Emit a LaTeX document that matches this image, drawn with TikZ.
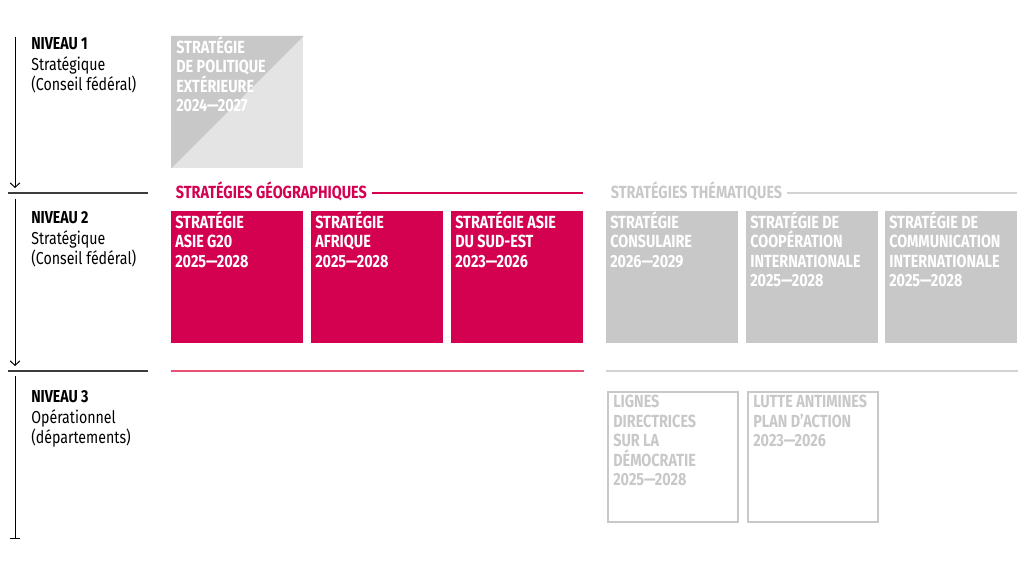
\documentclass[tikz,border=0pt]{standalone}
\usepackage{fontspec}
\setmainfont[FakeStretch=0.82]{Fira Sans}
\usetikzlibrary{arrows.meta}
\definecolor{geored}{RGB}{212,0,80}
\definecolor{geopink}{RGB}{232,80,120}
\definecolor{themgray}{RGB}{200,200,200}
\definecolor{themlight}{RGB}{228,228,228}
\definecolor{rulegray}{RGB}{210,210,210}
\definecolor{levelgray}{RGB}{60,60,60}

\begin{document}
\begin{tikzpicture}[x=0.025cm, y=-0.025cm,
    tile/.style={minimum width=3.3cm, minimum height=3.3cm, inner sep=0, anchor=north west},
    outtile/.style={tile, draw=themgray, line width=1.4pt, minimum width=3.25cm, minimum height=3.25cm},
    tiletext/.style={anchor=north west, align=left, inner sep=0,
                     font=\bfseries\fontsize{12.5}{13.9}\selectfont,
                     execute at begin node={\vphantom{É}}},
    leveltext/.style={anchor=north west, align=left, inner sep=0,
                      font=\fontsize{12.3}{14.8}\selectfont},
    header/.style={anchor=base west, inner sep=0, outer xsep=3.5pt,
                   font=\bfseries\fontsize{12.5}{13.9}\selectfont},
    levelarrow/.style={-{Straight Barb[length=3.2pt, width=7pt]}, line width=0.7pt},
    levelsep/.style={levelgray, line width=0.9pt},
  ]
    \useasboundingbox (0,0) rectangle (1024,576);

    % Left: levels
    \coordinate (a1s) at (15,37);   \coordinate (a1e) at (15,188);
    \coordinate (a2s) at (15,199);  \coordinate (a2e) at (15,366);
    \coordinate (a3s) at (15,376);  \coordinate (a3e) at (15,539);
    \coordinate (sep1) at (8,193);  \coordinate (sep1e) at (148,193);
    \coordinate (sep2) at (8,371);  \coordinate (sep2e) at (148,371);

    \draw[levelarrow] (a1s) -- (a1e);
    \draw[levelarrow] (a2s) -- (a2e);
    \draw[-{Bar[width=6.5pt]}, line width=0.7pt] (a3s) -- (a3e);
    \draw[levelsep] (sep1) -- (sep1e);
    \draw[levelsep] (sep2) -- (sep2e);

    \node[leveltext] (lvl1) at (31,37)  {\textbf{NIVEAU 1}\\Stratégique\\(Conseil fédéral)};
    \node[leveltext] (lvl2) at (31,211) {\textbf{NIVEAU 2}\\Stratégique\\(Conseil fédéral)};
    \node[leveltext] (lvl3) at (31,390) {\textbf{NIVEAU 3}\\Opérationnel\\(départements)};

    % Level 1: foreign policy strategy
    \node[tile, fill=themlight] (polext) at (171,36) {};
    \fill[themgray] (polext.north west) -- (polext.north east) -- (polext.south west) -- cycle;
    \node[tiletext, text=white] (polext-t) at ([shift={(5,0)}]polext.north west)
      {STRATÉGIE\\DE POLITIQUE\\EXTÉRIEURE\\2024—2027};

    % Level 2: geographic strategies
    \node[header, text=geored] (geohead) at (171,199) {STRATÉGIES GÉOGRAPHIQUES};
    \coordinate (geoend) at (583,193);
    \draw[geored, line width=1.3pt] (geohead.east |- geoend) -- (geoend);

    \node[tile, fill=geored] (asieg20) at (171,211) {};
    \node[tile, fill=geored] (afrique) at (311,211) {};
    \node[tile, fill=geored] (asiese)  at (451,211) {};
    \node[tiletext, text=white] at ([shift={(4,0)}]asieg20.north west) {STRATÉGIE\\ASIE G20\\2025—2028};
    \node[tiletext, text=white] at ([shift={(4,0)}]afrique.north west) {STRATÉGIE\\AFRIQUE\\2025—2028};
    \node[tiletext, text=white] at ([shift={(4,0)}]asiese.north west)  {STRATÉGIE ASIE\\DU SUD-EST\\2023—2026};

    % Level 2: thematic strategies
    \node[header, text=themgray] (themhead) at (606,199) {STRATÉGIES THÉMATIQUES};
    \coordinate (themend) at (1017,193);
    \draw[rulegray, line width=1.3pt] (themhead.east |- themend) -- (themend);

    \node[tile, fill=themgray] (consul) at (606,211) {};
    \node[tile, fill=themgray] (coop)   at (746,211) {};
    \node[tile, fill=themgray] (comm)   at (885,211) {};
    \node[tiletext, text=white] at ([shift={(4,0)}]consul.north west) {STRATÉGIE\\CONSULAIRE\\2026—2029};
    \node[tiletext, text=white] at ([shift={(4,0)}]coop.north west)   {STRATÉGIE DE\\COOPÉRATION\\INTERNATIONALE\\2025—2028};
    \node[tiletext, text=white] at ([shift={(4,0)}]comm.north west)   {STRATÉGIE DE\\COMMUNICATION\\INTERNATIONALE\\2025—2028};

    % Level 3: operational
    \draw[geopink, line width=1.1pt] (asieg20.west |- sep2) -- (asiese.east |- sep2);
    \draw[rulegray, line width=1.1pt] (consul.west |- sep2) -- (comm.east |- sep2);

    \node[outtile] (demo)  at (607,391) {};
    \node[outtile] (mines) at (747,391) {};
    \node[tiletext, text=themgray] at ([shift={(6,4)}]demo.north west)  {LIGNES\\DIRECTRICES\\SUR LA\\DÉMOCRATIE\\2025—2028};
    \node[tiletext, text=themgray] at ([shift={(6,4)}]mines.north west) {LUTTE ANTIMINES\\PLAN D’ACTION\\2023—2026};
  \end{tikzpicture}
\end{document}
